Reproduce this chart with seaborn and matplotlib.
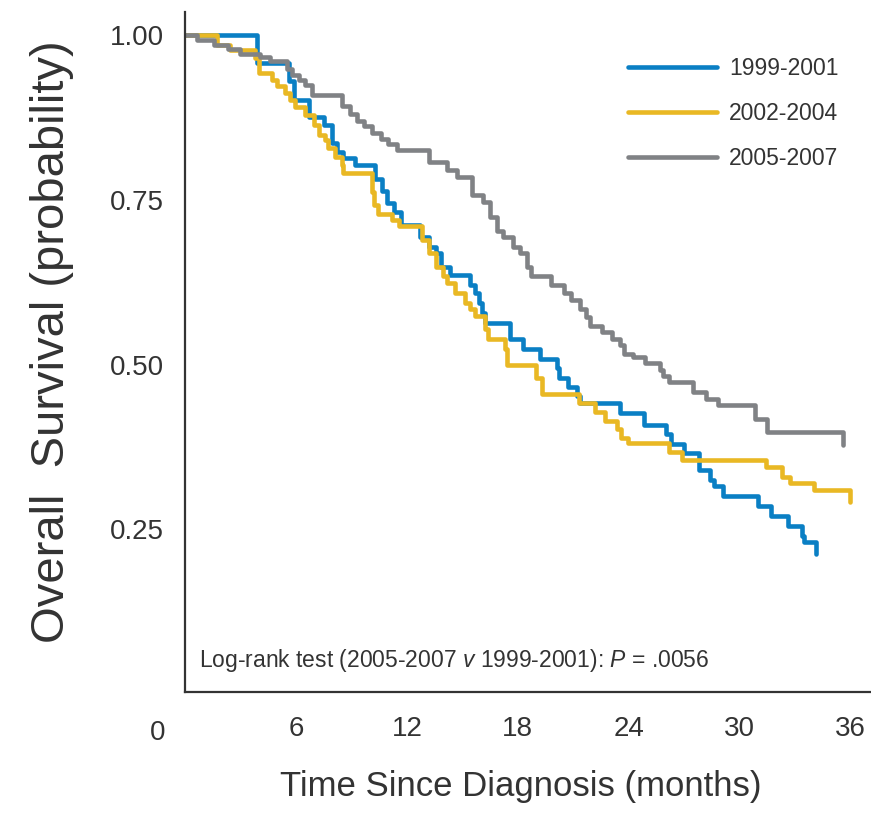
import seaborn as sns
import matplotlib.pyplot as plt
import pandas as pd

# Kaplan-Meier steps (months, survival probability)
blue_t = [0, 3.92, 5.65, 5.9, 6.68, 7.5, 7.95, 8.2, 8.57, 9.2, 10.3, 10.65, 10.9, 11.3, 11.7,
          12.7, 13.17, 13.6, 13.85, 14.35, 15.42, 15.7, 15.9, 16.05, 16.23, 17.58, 18.3, 19.2,
          20.1, 20.2, 20.7, 21.2, 21.35, 23.5, 24.8, 26.0, 26.3, 27.0, 27.8, 28.4, 28.6, 29.1,
          31.0, 31.7, 32.6, 33.35, 33.5, 34.1]
blue_s = [1.0, 0.957, 0.930, 0.902, 0.875, 0.863, 0.836, 0.823, 0.813, 0.803, 0.782, 0.764,
          0.745, 0.731, 0.712, 0.694, 0.679, 0.669, 0.648, 0.636, 0.621, 0.609, 0.594, 0.578,
          0.563, 0.539, 0.524, 0.509, 0.495, 0.480, 0.466, 0.452, 0.441, 0.426, 0.408, 0.395,
          0.380, 0.365, 0.340, 0.325, 0.315, 0.300, 0.285, 0.270, 0.255, 0.240, 0.230, 0.212]

yellow_t = [0, 1.75, 2.45, 3.8, 4.0, 4.7, 4.97, 5.42, 5.69, 5.96, 6.5, 6.95, 7.22, 7.58, 7.76,
            8.12, 8.49, 8.57, 10.1, 10.2, 10.46, 11.2, 11.55, 12.8, 13.17, 13.6, 13.95, 14.16,
            14.6, 15.15, 15.4, 15.7, 16.2, 16.4, 17.3, 17.4, 19.0, 19.3, 21.3, 22.2, 22.7,
            23.35, 23.6, 23.98, 26.2, 26.9, 31.4, 32.3, 32.7, 34.0, 35.96]
yellow_s = [1.0, 0.985, 0.977, 0.965, 0.942, 0.932, 0.922, 0.912, 0.901, 0.891, 0.879, 0.863,
            0.848, 0.841, 0.828, 0.815, 0.803, 0.790, 0.762, 0.742, 0.729, 0.719, 0.710, 0.689,
            0.669, 0.648, 0.634, 0.624, 0.609, 0.594, 0.584, 0.574, 0.554, 0.539, 0.523, 0.500,
            0.480, 0.456, 0.441, 0.428, 0.415, 0.402, 0.389, 0.381, 0.368, 0.355, 0.345, 0.330,
            0.320, 0.310, 0.292]

gray_t = [0, 0.65, 1.55, 2.3, 2.95, 4.07, 4.6, 5.5, 5.78, 6.14, 6.5, 6.86, 8.5, 8.9, 9.3, 9.7,
          10.1, 10.6, 11.0, 11.45, 13.2, 14.15, 14.7, 15.5, 16.1, 16.5, 16.85, 17.2, 17.75,
          18.1, 18.5, 18.7, 19.8, 20.5, 20.9, 21.35, 21.7, 21.9, 22.55, 23.1, 23.55, 23.75,
          24.25, 24.9, 25.7, 25.85, 26.2, 27.5, 28.2, 28.8, 30.8, 31.5, 35.6]
gray_s = [1.0, 0.992, 0.985, 0.979, 0.971, 0.966, 0.961, 0.949, 0.939, 0.932, 0.924, 0.909,
          0.893, 0.880, 0.870, 0.862, 0.852, 0.842, 0.834, 0.825, 0.807, 0.795, 0.785, 0.758,
          0.747, 0.724, 0.702, 0.694, 0.679, 0.669, 0.648, 0.634, 0.621, 0.608, 0.598, 0.585,
          0.572, 0.558, 0.549, 0.539, 0.529, 0.516, 0.511, 0.502, 0.491, 0.482, 0.473, 0.458,
          0.448, 0.438, 0.418, 0.398, 0.378]

groups = ['1999-2001', '2002-2004', '2005-2007']
colors = ['#0a7fc4', '#e9b824', '#808285']
xticks = [6, 12, 18, 24, 30, 36]
yticks = [0.25, 0.50, 0.75, 1.00]

df = pd.concat([
    pd.DataFrame({'months': blue_t, 'surv': blue_s, 'period': groups[0]}),
    pd.DataFrame({'months': yellow_t, 'surv': yellow_s, 'period': groups[1]}),
    pd.DataFrame({'months': gray_t, 'surv': gray_s, 'period': groups[2]}),
], ignore_index=True)

sns.set_style('white')
plt.rcParams['font.family'] = ['Liberation Sans', 'DejaVu Sans']
plt.rcParams['mathtext.fontset'] = 'custom'
plt.rcParams['mathtext.rm'] = 'Liberation Sans'
plt.rcParams['mathtext.it'] = 'Liberation Sans:italic'
txt = '#333333'

fig = plt.figure(figsize=(8.71, 8.26), dpi=100)
ax = fig.add_axes([0.2124, 0.1622, 0.7876, 0.8233])

sns.lineplot(data=df, x='months', y='surv', hue='period', hue_order=groups,
             palette=colors, estimator=None, sort=False, drawstyle='steps-post',
             linewidth=3.3, ax=ax)

ax.set_xlim(0, 37.1)
ax.set_ylim(0.003, 1.035)
ax.set_xticks(xticks)
ax.set_xticklabels([str(t) for t in xticks])
ax.set_yticks(yticks)
ax.set_yticklabels([f'{v:.2f}' for v in yticks])
ax.tick_params(axis='both', direction='out', length=8, width=1.5, colors=txt,
               labelsize=20, pad=7)
ax.tick_params(axis='x', pad=9)
for side in ['top', 'right']:
    ax.spines[side].set_visible(False)
for side in ['left', 'bottom']:
    ax.spines[side].set_color(txt)
    ax.spines[side].set_linewidth(1.6)

# the stray "0" label sits left of the axis in the original
ax.text(-1.5, -0.06, '0', transform=ax.get_xaxis_transform(), ha='center', va='center',
        fontsize=20, color=txt)

ax.set_xlabel('Time Since Diagnosis (months)', fontsize=25, color=txt)
ax.xaxis.set_label_coords(0.49, -0.115)
ax.set_ylabel('Overall  Survival (probability)', fontsize=34, color=txt)
ax.yaxis.set_label_coords(-0.162, 0.515)

ax.text(0.02, 0.047, r'Log-rank test (2005-2007 $\mathit{v}$ 1999-2001): $\mathit{P}$ = .0056',
        transform=ax.transAxes, ha='left', va='center', fontsize=16.5, color=txt)

handles, labels = ax.get_legend_handles_labels()
leg = ax.legend(handles, labels, loc='upper left', bbox_to_anchor=(0.629, 0.95),
                frameon=False, fontsize=16.5, handlelength=3.9, handletextpad=0.5,
                labelspacing=0.95, borderpad=0)
for t in leg.get_texts():
    t.set_color(txt)
for h in leg.get_lines():
    h.set_linewidth(3.3)

fig.savefig('out.png', dpi=100)
